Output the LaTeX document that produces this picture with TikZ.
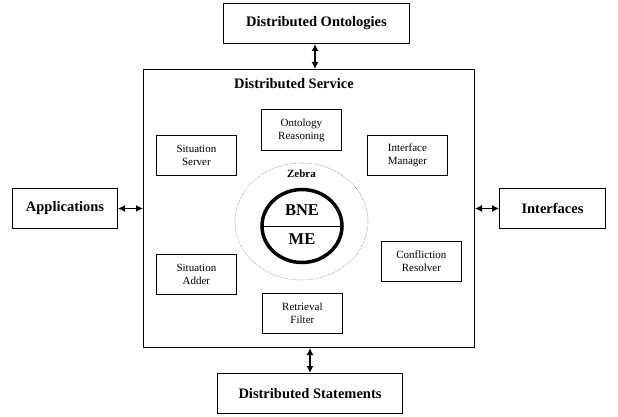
\documentclass[tikz,border=0pt]{standalone}
\usepackage{fontspec}
\setmainfont{Liberation Serif}
\usetikzlibrary{arrows.meta,shapes.geometric}
\begin{document}
\begin{tikzpicture}[x=1pt,y=-1pt,
  bigbox/.style={draw,line width=1pt,inner sep=0pt,font=\bfseries\fontsize{14.5}{16}\selectfont},
  smallbox/.style={draw,line width=0.8pt,inner sep=0pt,align=center,font=\fontsize{11}{13}\selectfont},
  conn/.style={line width=1.2pt,{Latex[length=7pt,width=7pt]}-{Latex[length=7pt,width=7pt]}}]
\useasboundingbox (0,0) rectangle (618,417);
\node[bigbox,minimum width=186pt,minimum height=40pt,anchor=north west] (onto) at (223,3) {Distributed Ontologies};
\node[draw,line width=1pt,minimum width=331pt,minimum height=278pt,anchor=north west,inner sep=0pt] (svc) at (143,69) {};
\node[font=\bfseries\fontsize{14.5}{16}\selectfont] (svct) at (294,84) {Distributed Service};
\node[bigbox,minimum width=105pt,minimum height=40pt,anchor=north west] (app) at (12,188) {Applications};
\node[bigbox,minimum width=106pt,minimum height=40pt,anchor=north west] (intf) at (499,188) {Interfaces};
\node[bigbox,minimum width=185pt,minimum height=40pt,anchor=north west] (stat) at (217,373) {Distributed Statements};
\node[smallbox,minimum width=80pt,minimum height=40pt,anchor=north west] (ss) at (156,135) {Situation\\Server};
\node[smallbox,minimum width=80pt,minimum height=41pt,anchor=north west] (or) at (261,109) {Ontology\\Reasoning};
\node[smallbox,minimum width=80pt,minimum height=40pt,anchor=north west] (im) at (367,135) {Interface\\Manager};
\node[smallbox,minimum width=80pt,minimum height=40pt,anchor=north west] (sa) at (156,254) {Situation\\Adder};
\node[smallbox,minimum width=80pt,minimum height=40pt,anchor=north west] (rf) at (262,293) {Retrieval\\Filter};
\node[smallbox,minimum width=80pt,minimum height=40pt,anchor=north west] (cr) at (381,241) {Confliction\\Resolver};
\node[draw=gray,densely dotted,line width=0.6pt,ellipse,minimum width=133pt,minimum height=117pt,inner sep=0pt] (zeb) at (301.5,221.5) {};
\node[font=\bfseries\fontsize{11}{13}\selectfont] (zebt) at (301.5,174) {Zebra};
\node[draw,ellipse,line width=3.5pt,minimum width=80pt,minimum height=73pt,inner sep=0pt] (core) at (302,226) {};
\draw[line width=1pt] (core.west) -- (core.east);
\node[font=\bfseries\fontsize{16.5}{18}\selectfont] (bne) at (302,210) {BNE};
\node[font=\bfseries\fontsize{16.5}{18}\selectfont] (me) at (302,239) {ME};
\draw[conn] (onto.south -| 315,0) -- (svc.north -| 315,0);
\draw[conn] (svc.south -| 310,0) -- (stat.north -| 310,0);
\draw[conn] (app.east) -- (svc.west |- app.east);
\draw[conn] (intf.west) -- (svc.east |- intf.west);
\end{tikzpicture}
\end{document}
